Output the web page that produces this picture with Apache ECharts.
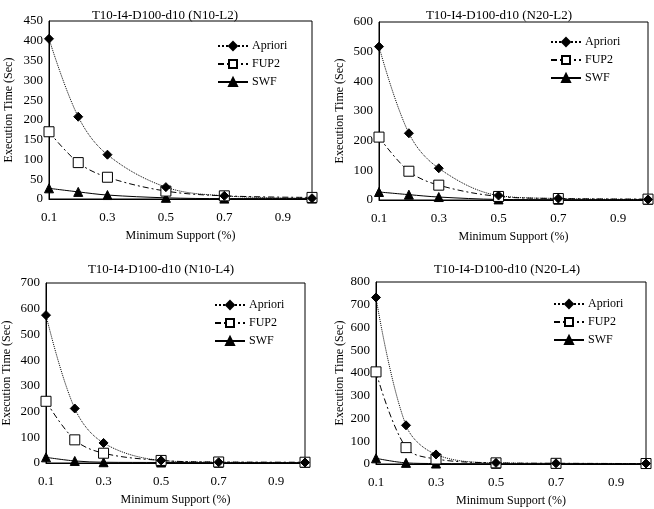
<!DOCTYPE html>
<html>
<head>
<meta charset="utf-8">
<script src="https://cdn.jsdelivr.net/npm/echarts@6/dist/echarts.min.js"></script>
<style>
  html, body { margin: 0; padding: 0; background: #fff; }
  #main { width: 654px; height: 509px; }
</style>
</head>
<body>
<div id="main"></div>
<script>
// minimum support (%) values
var support = [0.1, 0.2, 0.3, 0.5, 0.7, 1.0];
var seriesNames = ['Apriori', 'FUP2', 'SWF'];
var titles = [
    'T10-I4-D100-d10 (N10-L2)',
    'T10-I4-D100-d10 (N20-L2)',
    'T10-I4-D100-d10 (N10-L4)',
    'T10-I4-D100-d10 (N20-L4)'
];

// execution time (sec), one array per panel and algorithm
var aprioriN10L2 = [405, 208, 112, 30, 8, 2];
var fup2N10L2 = [170, 92, 55, 20, 8, 4];
var swfN10L2 = [27, 18, 10, 3, 1, 1];

var aprioriN20L2 = [517, 225, 107, 15, 5, 2];
var fup2N20L2 = [212, 97, 50, 12, 5, 3];
var swfN20L2 = [27, 18, 10, 2, 1, 1];

var aprioriN10L4 = [575, 212, 78, 10, 3, 2];
var fup2N10L4 = [240, 90, 38, 10, 4, 3];
var swfN10L4 = [22, 8, 3, 2, 1, 1];

var aprioriN20L4 = [732, 170, 42, 5, 3, 2];
var fup2N20L4 = [405, 72, 22, 5, 3, 2];
var swfN20L4 = [25, 5, 2, 1, 1, 1];

// y axis ranges
var yMax = [450, 600, 700, 800];
var yStep = [50, 100, 100, 100];

var panelData = [
    [aprioriN10L2, fup2N10L2, swfN10L2],
    [aprioriN20L2, fup2N20L2, swfN20L2],
    [aprioriN10L4, fup2N10L4, swfN10L4],
    [aprioriN20L4, fup2N20L4, swfN20L4]
];

var font = 'Liberation Serif, Times New Roman, serif';

// layout of the four panels (pixels)
var grids = [
    { left: 49, right: 342, top: 21, bottom: 310 },
    { left: 379, right: 6, top: 22, bottom: 309 },
    { left: 41, right: 349, top: 283, bottom: 46 },
    { left: 376, right: 8, top: 282, bottom: 45 }
];
var titlePos = [[160, 4], [494, 4], [156, 258], [502, 258]];
var legendPos = [[212, 35], [545, 31], [209, 294], [548, 293]];
var yNameGap = [34, 33, 33, 30];

var styles = [
    { symbol: 'diamond', symbolSize: 9, line: 'dotted', fill: '#000' },
    { symbol: 'rect', symbolSize: 10, line: [6, 3, 2, 3], fill: '#fff' },
    { symbol: 'triangle', symbolSize: 9, line: 'solid', fill: '#000' }
];

var chart = echarts.init(document.getElementById('main'));

var option = {
    animation: false,
    backgroundColor: '#fff',
    textStyle: { fontFamily: font, color: '#000' },
    title: [],
    legend: [],
    grid: [],
    xAxis: [],
    yAxis: [],
    series: []
};

for (var i = 0; i < 4; i++) {
    option.title.push({
        text: titles[i],
        left: titlePos[i][0],
        top: titlePos[i][1],
        textAlign: 'center',
        textStyle: { fontFamily: font, fontSize: 13, fontWeight: 'normal', color: '#000' }
    });
    option.legend.push({
        data: seriesNames,
        orient: 'vertical',
        left: legendPos[i][0],
        top: legendPos[i][1],
        itemWidth: 30,
        itemHeight: 10,
        itemGap: 6,
        textStyle: { fontFamily: font, fontSize: 12, color: '#000', padding: [0, 0, 0, -1] }
    });
    option.grid.push({
        left: grids[i].left,
        right: grids[i].right,
        top: grids[i].top,
        bottom: grids[i].bottom,
        show: true,
        borderColor: '#000',
        borderWidth: 1
    });
    option.xAxis.push({
        type: 'value',
        gridIndex: i,
        min: 0.1,
        max: 1.0,
        interval: 0.2,
        name: 'Minimum Support (%)',
        nameLocation: 'middle',
        nameGap: 31,
        nameTextStyle: { fontFamily: font, fontSize: 12, color: '#000' },
        axisLine: { lineStyle: { color: '#000' } },
        axisTick: { show: false },
        splitLine: { show: false },
        axisLabel: {
            showMaxLabel: false,
            margin: 12,
            fontFamily: font,
            fontSize: 13,
            color: '#000',
            formatter: function (v) { return v.toFixed(1); }
        }
    });
    option.yAxis.push({
        type: 'value',
        gridIndex: i,
        min: 0,
        max: yMax[i],
        interval: yStep[i],
        name: 'Execution Time (Sec)',
        nameLocation: 'middle',
        nameGap: yNameGap[i],
        nameTextStyle: { fontFamily: font, fontSize: 12, color: '#000' },
        axisLine: { show: true, lineStyle: { color: '#000' } },
        axisTick: { show: false },
        splitLine: { show: false },
        axisLabel: { margin: 6, fontFamily: font, fontSize: 13, color: '#000' }
    });
    for (var s = 0; s < 3; s++) {
        var pts = support.map(function (x, k) { return [x, panelData[i][s][k]]; });
        option.series.push({
            name: seriesNames[s],
            type: 'line',
            xAxisIndex: i,
            yAxisIndex: i,
            data: pts,
            smooth: 0.35,
            symbol: styles[s].symbol,
            symbolSize: styles[s].symbolSize,
            itemStyle: { color: styles[s].fill, borderColor: '#000', borderWidth: 1 },
            lineStyle: { color: '#000', width: 1, type: styles[s].line },
            z: 3 - s
        });
    }
}

option && chart.setOption(option);
</script>
</body>
</html>
